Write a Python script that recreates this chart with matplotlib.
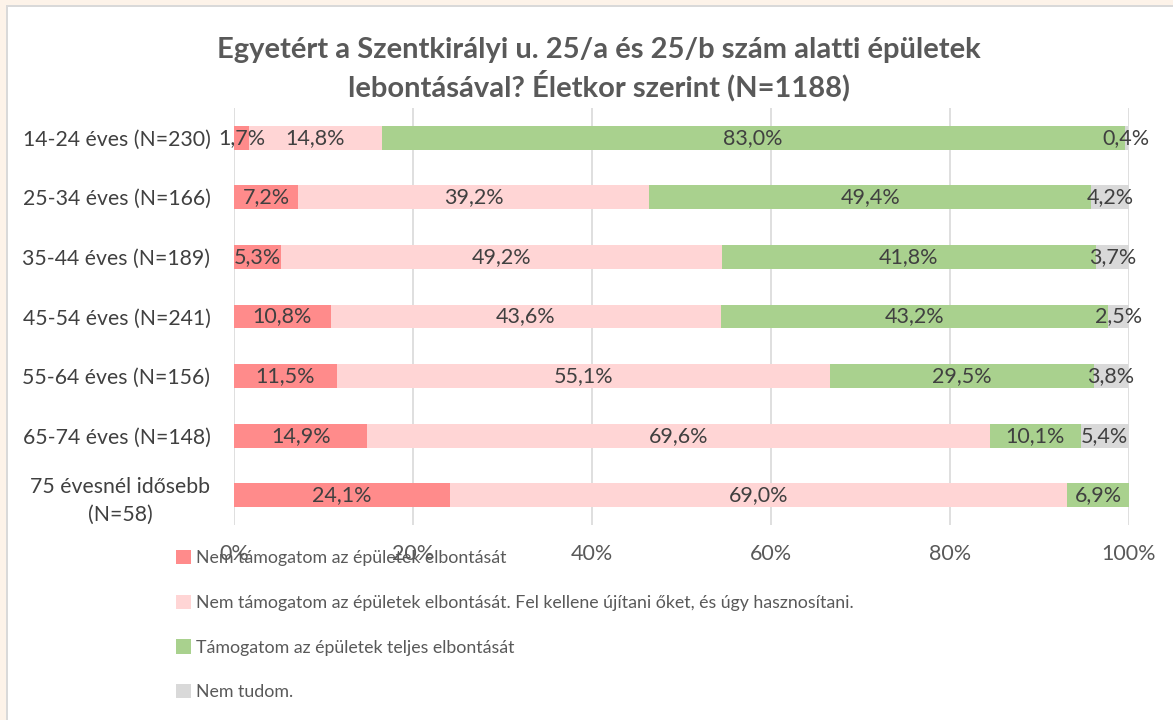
import numpy as np
import matplotlib.pyplot as plt
from matplotlib.patches import Rectangle

plt.rcParams['font.family'] = ['Lato', 'DejaVu Sans']

categories = ['14-24 éves (N=230)', '25-34 éves (N=166)', '35-44 éves (N=189)',
              '45-54 éves (N=241)', '55-64 éves (N=156)', '65-74 éves (N=148)',
              '75 évesnél idősebb\n(N=58)']
nem_tamogatom = [1.7, 7.2, 5.3, 10.8, 11.5, 14.9, 24.1]
felujitani = [14.8, 39.2, 49.2, 43.6, 55.1, 69.6, 69.0]
tamogatom = [83.0, 49.4, 41.8, 43.2, 29.5, 10.1, 6.9]
nem_tudom = [0.4, 4.2, 3.7, 2.5, 3.8, 5.4, 0.0]

series = [nem_tamogatom, felujitani, tamogatom, nem_tudom]
labels = ['Nem támogatom az épületek elbontását',
          'Nem támogatom az épületek elbontását. Fel kellene újítani őket, és úgy hasznosítani.',
          'Támogatom az épületek teljes elbontását',
          'Nem tudom.']
colors = ['#FF8B8B', '#FFD5D5', '#A9D18E', '#D9D9D9']
ticks = [0, 20, 40, 60, 80, 100]
title = 'Egyetért a Szentkirályi u. 25/a és 25/b szám alatti épületek\nlebontásával? Életkor szerint (N=1188)'

W, H = 1173, 720
fig = plt.figure(figsize=(W / 100, H / 100), dpi=100, facecolor='white')
# beige frame strips at top and left, thin gray border inside them
fig.patches.append(Rectangle((0, 1 - 5 / H), 1, 5 / H, transform=fig.transFigure,
                             facecolor='#FDF3E9', edgecolor='none', zorder=-10))
fig.patches.append(Rectangle((0, 0), 6 / W, 1, transform=fig.transFigure,
                             facecolor='#FDF3E9', edgecolor='none', zorder=-10))
fig.patches.append(Rectangle((6 / W, 1 - 7 / H), 1, 2 / H, transform=fig.transFigure,
                             facecolor='#D9D9D9', edgecolor='none', zorder=-9))
fig.patches.append(Rectangle((6 / W, 0), 2 / W, 1 - 5 / H, transform=fig.transFigure,
                             facecolor='#D9D9D9', edgecolor='none', zorder=-9))

ax = fig.add_axes([234 / W, 195 / H, 895 / W, 417 / H])
ax.set_zorder(1)
ax.set_facecolor('none')

y = np.arange(len(categories))
left = np.zeros(len(categories))
handles = []
for vals, lab, col in zip(series, labels, colors):
    vals = np.array(vals)
    h = ax.barh(y, vals, left=left, height=0.4, color=col, label=lab, zorder=2)
    handles.append(h)
    for yi, (l, v) in enumerate(zip(left, vals)):
        if v > 0:
            ax.text(l + v / 2, yi, f'{v:.1f}%'.replace('.', ','), ha='center', va='center',
                    fontsize=15.5, color='#404040', zorder=3)
    left = left + vals

ax.set_xlim(0, 100)
ax.set_ylim(len(categories) - 0.5, -0.5)
ax.set_yticks(y)
ax.set_yticklabels(categories, fontsize=15.3, color='#404040',
                   multialignment='center', linespacing=1.45)
ax.set_xticks(ticks)
ax.set_xticklabels([f'{t}%' for t in ticks], fontsize=15.5, color='#595959')
ax.tick_params(axis='both', length=0)
ax.tick_params(axis='x', pad=14)
ax.tick_params(axis='y', pad=17)
ax.grid(axis='x', color='#D9D9D9', linewidth=1.2, zorder=0)
for s in ax.spines.values():
    s.set_visible(False)

fig.text(599 / W, 1 - 69 / H, title, ha='center', va='center', fontsize=21,
         fontweight='bold', color='#595959', linespacing=1.25)

leg = fig.legend(handles=handles, labels=labels, loc='upper left',
                 bbox_to_anchor=(176 / W, 1 - 550 / H), frameon=False, ncol=1,
                 fontsize=12.8, labelcolor='#595959', handlelength=0.85, handleheight=0.85,
                 handletextpad=0.3, labelspacing=1.6, borderaxespad=0, borderpad=0)
leg.set_zorder(2)

fig.savefig('out.png', dpi=100, facecolor=fig.get_facecolor())
